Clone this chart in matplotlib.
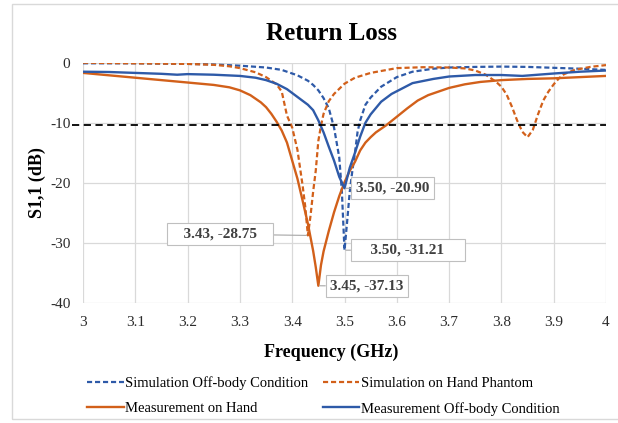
import matplotlib
matplotlib.use('Agg')
import matplotlib.pyplot as plt
from matplotlib.patches import Rectangle

# Measurement on Hand (orange, solid)
f_meas_hand = [3.00, 3.05, 3.10, 3.15, 3.20, 3.25, 3.28, 3.30, 3.32, 3.34, 3.35, 3.36, 3.37,
               3.38, 3.39, 3.40, 3.41, 3.42, 3.43, 3.44, 3.445, 3.45, 3.455, 3.46, 3.47, 3.48,
               3.49, 3.50, 3.51, 3.52, 3.53, 3.54, 3.55, 3.56, 3.58, 3.60, 3.62, 3.64, 3.66,
               3.68, 3.70, 3.73, 3.76, 3.80, 3.85, 3.90, 3.95, 4.00]
s_meas_hand = [-1.7, -2.1, -2.5, -2.9, -3.3, -3.7, -4.1, -4.6, -5.4, -6.6, -7.4, -8.5, -9.8,
               -11.3, -13.3, -16.3, -19.3, -23.0, -26.8, -31.3, -34.0, -37.13, -33.7, -31.4, -28.0, -24.9,
               -22.2, -19.9, -18.0, -16.5, -14.6, -13.3, -12.4, -11.6, -10.4, -9.0, -7.6, -6.3, -5.4,
               -4.8, -4.2, -3.6, -3.2, -2.9, -2.7, -2.6, -2.4, -2.2]

# Measurement Off-body Condition (blue, solid)
f_meas_off = [3.00, 3.05, 3.10, 3.15, 3.18, 3.20, 3.25, 3.30, 3.33, 3.35, 3.37, 3.39, 3.41,
              3.43, 3.44, 3.45, 3.46, 3.47, 3.48, 3.49, 3.50, 3.51, 3.52, 3.53, 3.54, 3.55,
              3.57, 3.59, 3.61, 3.63, 3.67, 3.70, 3.75, 3.80, 3.84, 3.90, 3.95, 4.00]
s_meas_off = [-1.5, -1.55, -1.7, -1.85, -2.0, -1.9, -2.0, -2.2, -2.5, -2.9, -3.5, -4.4, -5.7,
              -7.0, -7.9, -9.6, -11.6, -14.0, -16.3, -19.0, -20.90, -17.5, -15.0, -12.3, -10.0, -8.6,
              -6.5, -5.2, -4.3, -3.4, -2.7, -2.3, -2.05, -2.05, -2.2, -1.8, -1.5, -1.3]

# Simulation Off-body Condition (blue, dashed)
f_sim_off = [3.00, 3.10, 3.20, 3.25, 3.30, 3.35, 3.38, 3.41, 3.43, 3.44, 3.45, 3.46, 3.47,
             3.48, 3.49, 3.495, 3.50, 3.505, 3.51, 3.515, 3.52, 3.525, 3.53, 3.54, 3.55, 3.57,
             3.60, 3.63, 3.67, 3.70, 3.75, 3.80, 3.85, 3.90, 3.95, 4.00]
s_sim_off = [-0.1, -0.1, -0.2, -0.3, -0.5, -0.8, -1.2, -2.1, -3.0, -3.7, -4.6, -5.9, -7.6,
             -10.8, -15.8, -21.5, -31.21, -26.5, -21.5, -18.0, -15.0, -11.5, -9.6, -7.0, -5.8, -4.0,
             -2.4, -1.5, -1.0, -0.8, -0.7, -0.65, -0.7, -0.85, -1.0, -1.2]

# Simulation on Hand Phantom (orange, dashed)
f_sim_hand = [3.00, 3.10, 3.20, 3.25, 3.28, 3.30, 3.33, 3.35, 3.37, 3.38, 3.39, 3.40, 3.41,
              3.42, 3.425, 3.43, 3.435, 3.44, 3.445, 3.45, 3.455, 3.46, 3.47, 3.48, 3.50, 3.52,
              3.55, 3.60, 3.65, 3.70, 3.73, 3.75, 3.77, 3.79, 3.80, 3.81, 3.82, 3.83, 3.84,
              3.85, 3.86, 3.87, 3.88, 3.89, 3.90, 3.91, 3.92, 3.94, 3.97, 4.00]
s_sim_hand = [0.0, -0.1, -0.2, -0.35, -0.6, -0.9, -1.6, -2.4, -3.6, -4.8, -8.8, -10.8, -14.5,
              -20.5, -24.0, -28.75, -25.5, -21.5, -18.0, -13.0, -10.5, -8.5, -6.4, -5.2, -3.5, -2.5,
              -1.7, -0.9, -0.75, -0.8, -0.95, -1.3, -2.0, -3.2, -4.0, -5.3, -7.3, -9.6, -11.5,
              -12.4, -11.2, -8.6, -6.3, -4.8, -3.6, -2.6, -1.9, -1.2, -0.7, -0.4]

threshold = -10.3

x_ticks = [3.0, 3.1, 3.2, 3.3, 3.4, 3.5, 3.6, 3.7, 3.8, 3.9, 4.0]
x_labels = ['3', '3.1', '3.2', '3.3', '3.4', '3.5', '3.6', '3.7', '3.8', '3.9', '4']
y_ticks = [0, -10, -20, -30, -40]
y_labels = ['0', '-10', '-20', '-30', '-40']

# data labels: (text, point x, point y, label x, label y)
callouts = [
    ('   3.43, -28.75   ', 3.43, -28.75, 3.262, -28.55),
    ('3.50, -20.90', 3.50, -20.90, 3.592, -20.9),
    ('    3.50, -31.21    ', 3.50, -31.21, 3.621, -31.2),
    ('3.45, -37.13', 3.45, -37.13, 3.543, -37.2),
]

blue = '#2E5AA8'
orange = '#D2601A'

plt.rcParams['font.family'] = ['Liberation Serif', 'DejaVu Serif']
plt.rcParams['axes.unicode_minus'] = False

fig = plt.figure(figsize=(6.18, 4.23), dpi=100)
ax = fig.add_axes([83/618, 1 - 303/423, (606-83)/618, (303-62.7)/423])

dash = (0, (2.3, 1.3))
l1, = ax.plot(f_sim_off, s_sim_off, color=blue, lw=1.6, ls=dash, label='Simulation Off-body Condition')
l3, = ax.plot(f_sim_hand, s_sim_hand, color=orange, lw=1.6, ls=dash, label='Simulation on Hand Phantom')
l2, = ax.plot(f_meas_hand, s_meas_hand, color=orange, lw=1.7, label='Measurement on Hand')
l4, = ax.plot(f_meas_off, s_meas_off, color=blue, lw=1.7, label='Measurement Off-body Condition')

ax.axhline(threshold, xmin=-0.021, xmax=1, clip_on=False, color='black', lw=1.3, ls=(0, (4, 2.5)))

ax.set_xlim(3, 4)
ax.set_ylim(-40, 0)
ax.set_xticks(x_ticks)
ax.set_xticklabels(x_labels)
ax.set_yticks(y_ticks)
ax.set_yticklabels(y_labels)
ax.tick_params(length=0, labelsize=11, colors='#2b2b2b')
ax.tick_params(axis='y', pad=9)
ax.tick_params(axis='x', pad=9)
ax.grid(True, color='#d9d9d9', lw=0.9)
ax.set_axisbelow(True)
for sp in ax.spines.values():
    sp.set_visible(False)

for txt, px, py, tx, ty in callouts:
    ax.annotate(txt, xy=(px, py), xytext=(tx, ty), textcoords='data',
                ha='center', va='center', fontsize=11, fontweight='bold', color='#404040',
                bbox=dict(boxstyle='square,pad=0.3', fc='white', ec='#bfbfbf', lw=0.8),
                arrowprops=dict(arrowstyle='-', color='#a6a6a6', lw=0.8, shrinkA=0, shrinkB=1))

fig.text(331/618, 1 - 33/423, 'Return Loss', ha='center', va='center', fontsize=18, fontweight='bold')
fig.text(331/618, 1 - 352/423, 'Frequency (GHz)', ha='center', va='center', fontsize=13, fontweight='bold')
fig.text(37/618, 1 - 183/423, 'S1,1 (dB)', ha='center', va='center', rotation=90, fontsize=13, fontweight='bold')

fig.legend(handles=[l1, l2, l3, l4], ncol=2, loc='upper left',
           bbox_to_anchor=(80/618, 1 - 369/423), frameon=False, fontsize=10.5,
           handlelength=2.5, handletextpad=0.1, columnspacing=1.0, labelspacing=0.8, borderpad=0)

fig.patches.append(Rectangle((12/618, 4/423), 1.0, 415/423, transform=fig.transFigure,
                             fill=False, ec='#d9d9d9', lw=1))

fig.savefig('out.png', dpi=100)
